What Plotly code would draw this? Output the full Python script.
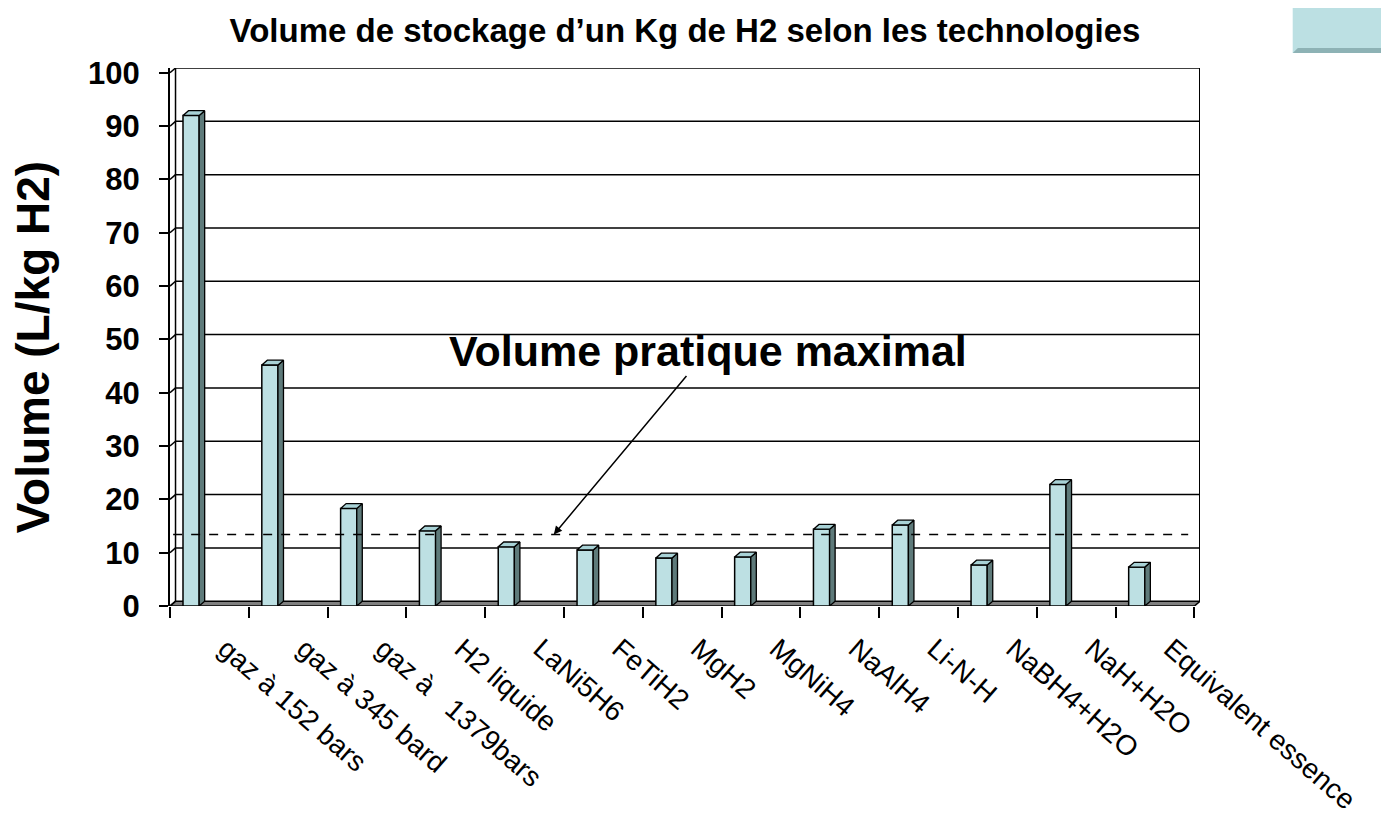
import plotly.graph_objects as go

# ---------------- data ----------------
categories = [
    "gaz à 152 bars", "gaz à 345 bard", "gaz à\u00a0\u00a0\u00a01379bars", "H2 liquide",
    "LaNi5H6", "FeTiH2", "MgH2", "MgNiH4", "NaAlH4", "Li-N-H",
    "NaBH4+H2O", "NaH+H2O", "Equivalent essence",
]
volumes = [92.0, 45.2, 18.3, 14.1, 11.1, 10.5, 9.0, 9.2, 14.4, 15.2, 7.7, 22.8, 7.3]
practical_max = 13.4
y_ticks = list(range(0, 101, 10))

title_text = "Volume de stockage d’un Kg de H2 selon les technologies"
y_title = "Volume (L/kg H2)"
note_text = "Volume pratique maximal"

# ---------------- style ----------------
FONT = "Liberation Sans, Arial, sans-serif"
FRONT = "#BDE0E3"
TOP = "#A8D2D6"
SIDE = "#5E7A7A"
FLOOR = "#808080"

W, H = 1381, 818  # page has an 8px body margin

bar_offset = -0.335
bar_width = 0.205
dx = 0.07   # 3-D depth, x units
dy = 0.9    # 3-D depth, y units
n = len(categories)
xs = list(range(n))
x_left = -0.5
x_right = n - 0.5 + dx

fig = go.Figure()

# front faces
fig.add_trace(go.Bar(
    x=xs, y=volumes, offset=bar_offset, width=bar_width,
    marker=dict(color=FRONT, line=dict(color="black", width=1.5)),
    hoverinfo="skip", showlegend=False,
))

# side + top faces
for i, v in zip(xs, volumes):
    x0 = i + bar_offset
    x1 = x0 + bar_width
    fig.add_trace(go.Scatter(
        x=[x1, x1 + dx, x1 + dx, x1, x1], y=[0, dy, v + dy, v, 0],
        mode="lines", fill="toself", fillcolor=SIDE,
        line=dict(color="black", width=1.3), hoverinfo="skip", showlegend=False,
    ))
    fig.add_trace(go.Scatter(
        x=[x0, x0 + dx, x1 + dx, x1, x0], y=[v, v + dy, v + dy, v, v],
        mode="lines", fill="toself", fillcolor=TOP,
        line=dict(color="black", width=1.3), hoverinfo="skip", showlegend=False,
    ))

shapes = []
# floor
shapes.append(dict(
    type="path", xref="x", yref="y", layer="below",
    path=f"M {x_left},0 L {n - 0.5},0 L {x_right},{dy} L {x_left + dx},{dy} Z",
    fillcolor=FLOOR, line=dict(color="black", width=1.5),
))
# back wall gridlines + left wall diagonals
for v in y_ticks:
    if v > 0:
        shapes.append(dict(type="line", xref="x", yref="y", layer="below",
                           x0=x_left + dx, x1=x_right, y0=v + dy, y1=v + dy,
                           line=dict(color="black", width=1.5)))
    shapes.append(dict(type="line", xref="x", yref="y", layer="below",
                       x0=x_left, x1=x_left + dx, y0=v, y1=v + dy,
                       line=dict(color="black", width=1.5)))
# wall verticals
shapes.append(dict(type="line", xref="x", yref="y", layer="below",
                   x0=x_left + dx, x1=x_left + dx, y0=dy, y1=100 + dy,
                   line=dict(color="black", width=1.5)))
shapes.append(dict(type="line", xref="x", yref="y", layer="below",
                   x0=x_right, x1=x_right, y0=dy, y1=100 + dy,
                   line=dict(color="black", width=2)))
# dashed practical max line
shapes.append(dict(type="line", xref="x", yref="y", layer="above",
                   x0=x_left + 0.04, x1=n - 0.58, y0=practical_max, y1=practical_max,
                   line=dict(color="black", width=1.5, dash="dash")))
# decorative top-right box
shapes.append(dict(type="rect", xref="paper", yref="paper", layer="above",
                   x0=1.09, x1=1.2, y0=1.028, y1=1.15,
                   fillcolor="#BCE0E3", line=dict(width=0)))
shapes.append(dict(type="path", xref="paper", yref="paper", layer="above",
                   path="M 1.09,1.028 L 1.2,1.028 L 1.2,1.037 L 1.095,1.037 Z",
                   fillcolor="#8DB2B5", line=dict(width=0)))

annotations = [
    dict(x=4.37, y=practical_max, xref="x", yref="y", text=f"<b>{note_text}</b>",
         showarrow=True, ax=154, ay=-184, arrowhead=2, arrowsize=1.1,
         arrowwidth=1.5, arrowcolor="black",
         font=dict(family=FONT, size=43, color="black")),
    dict(x=-0.133, y=0.481, xref="paper", yref="paper", text=f"<b>{y_title}</b>",
         textangle=-90, showarrow=False, xanchor="center", yanchor="middle",
         font=dict(family=FONT, size=46, color="black")),
]

fig.update_layout(
    width=W, height=H, autosize=False,
    margin=dict(l=162, r=189, t=60, b=220),
    paper_bgcolor="white", plot_bgcolor="white",
    title=dict(text=f"<b>{title_text}</b>", x=677 / W, xref="container",
               y=1 - 22 / H, yref="container", xanchor="center", yanchor="middle",
               font=dict(family=FONT, size=33, color="black")),
    shapes=shapes, annotations=annotations,
    xaxis=dict(range=[x_left, x_right], tickmode="array", tickvals=xs,
               ticktext=categories, tickangle=41, ticks="", showgrid=False,
               zeroline=False, showline=False, automargin=False,
               ticklabelstandoff=20, ticklabelshift=16,
               tickfont=dict(family=FONT, size=28, color="black"),
               minor=dict(tickmode="linear", tick0=-0.5, dtick=1, ticks="outside",
                          ticklen=11, tickwidth=2, tickcolor="black", showgrid=False)),
    yaxis=dict(range=[0, 100 + dy], tickmode="array", tickvals=y_ticks,
               ticktext=[f"<b>{t}</b>" for t in y_ticks],
               ticks="outside", ticklen=9, tickwidth=2, tickcolor="black",
               showline=True, linecolor="black", linewidth=2, showgrid=False,
               zeroline=False, ticklabelstandoff=13, automargin=False,
               tickfont=dict(family=FONT, size=31, color="black")),
)

fig.write_html("out.html")
